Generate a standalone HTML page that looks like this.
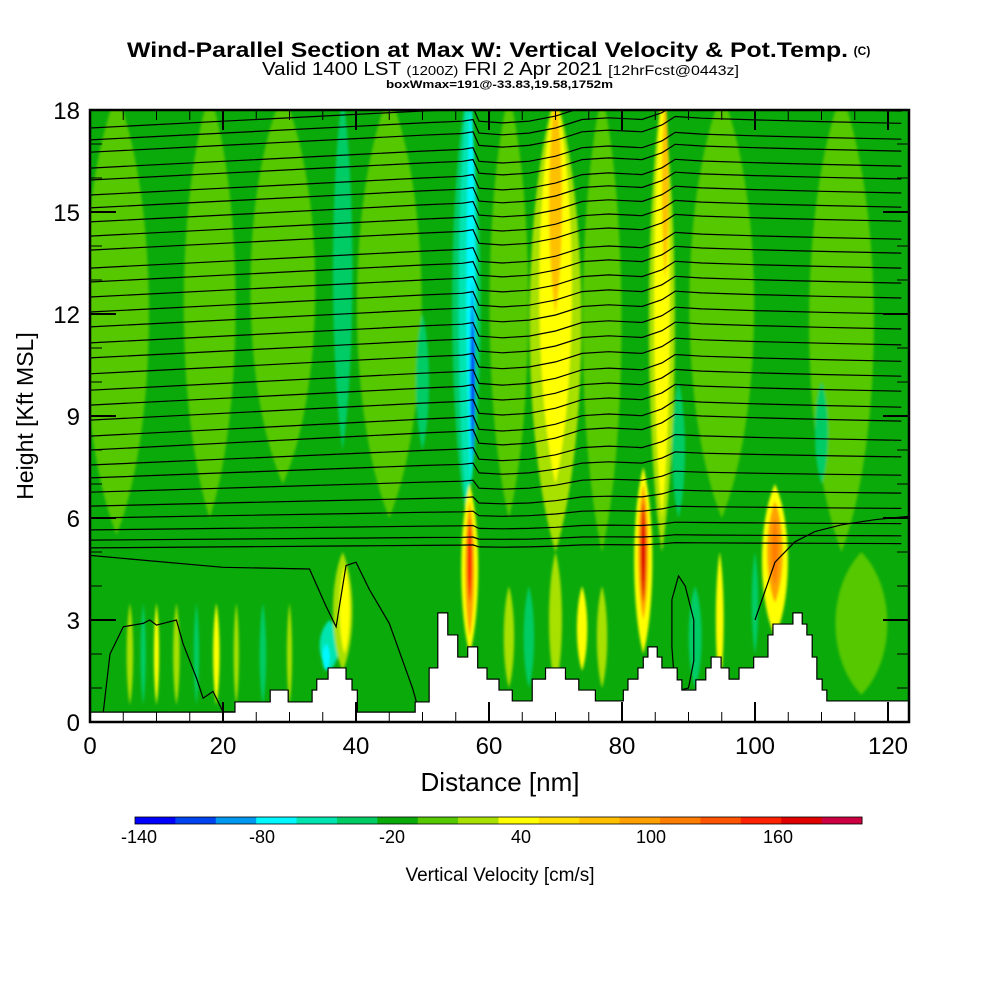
<!DOCTYPE html>
<html><head><meta charset="utf-8"><style>
html,body{margin:0;padding:0;background:#fff;}
svg{display:block;font-family:"Liberation Sans",sans-serif;}
</style></head><body>
<svg id="chart" width="1000" height="1000" viewBox="0 0 1000 1000">
<g>
<text x="127" y="57" font-size="21" font-weight="bold" textLength="721" lengthAdjust="spacingAndGlyphs">Wind-Parallel Section at Max W: Vertical Velocity &amp; Pot.Temp.</text>
<text x="862" y="55" text-anchor="middle" font-size="12" font-weight="bold">(C)</text>
<text x="262" y="75" font-size="18" textLength="477" lengthAdjust="spacingAndGlyphs">Valid 1400 LST <tspan font-size="13">(1200Z)</tspan> FRI 2 Apr 2021 <tspan font-size="14">[12hrFcst@0443z]</tspan></text>
<text x="386" y="88" font-size="11" font-weight="bold" textLength="227" lengthAdjust="spacingAndGlyphs">boxWmax=191@-33.83,19.58,1752m</text>
</g>
<defs><clipPath id="plotclip"><rect x="90" y="110" width="819" height="612"/></clipPath>
<filter id="soft" x="-20%" y="-20%" width="140%" height="140%"><feGaussianBlur stdDeviation="1.2"/></filter></defs>
<g id="field" clip-path="url(#plotclip)"></g>
<g id="contours" clip-path="url(#plotclip)"></g>
<g id="terrain" clip-path="url(#plotclip)"></g>
<g id="axes"></g>
<g id="cbar"></g>
<text x="500" y="791" text-anchor="middle" font-size="26">Distance [nm]</text>
<text transform="translate(33,416) rotate(-90)" text-anchor="middle" font-size="23">Height [Kft MSL]</text>
<text x="500" y="881" text-anchor="middle" font-size="19">Vertical Velocity [cm/s]</text>
</svg>
<script>
// ---- data ----
const binColors = ['#0000ff','#0044f0','#0099f0','#00f8ff','#00e4b0','#00cc66','#0aaa0a','#55c800','#a8e000','#ffff00','#ffe000','#ffc000','#ffa000','#ff7e00','#ff5400','#ff2200','#e00000','#cc0040'];
const binStart = -140, binStep = 20;
const cbarTickValues = [-140,-80,-20,40,100,160];
const cbarTickPos = [139,262,392,521,651,778];
// streaks: center (nm), half width (nm), bottom/top (kft), velocity (cm/s)
const streakX  = [4,18,29,45,63,77,95,113, 70,86, 70,86, 70,86.5, 38,56.6,56.7,57.3,57.5,57.6, 50,88.5,110,36,35.5, 57.1,57.1,57.1, 83.2,83.2,83.2, 103,103,103, 38,38.3, 94.7,100, 6,8,10,13,16,19,22,26,30, 63,66,70,74,77, 116, 91];
const streakW  = [5,4,5,5,3,3,5,5, 4,2, 2.5,1.2, 1,0.5, 1.5,2.2,1.3,0.7,0.4,0.22, 1,1,1,1.5,0.6, 1.3,0.7,0.35, 1.4,0.8,0.4, 2,1.2,0.5, 1.5,0.8, 0.6,0.5, 0.5,0.4,0.4,0.5,0.4,0.5,0.4,0.5,0.4, 0.8,0.8,1,0.8,0.8, 4, 1];
const streakY0 = [5.5,6,7,6,6,5,6,5, 5,5, 7,6, 12,13, 8,6,6,7,7.5,8, 8,6,7,1.5,1.5, 2,2.5,3.5, 2,3,3.5, 2.5,3.5,4, 1.5,2, 1,2, 0.5,0.5,0.5,0.5,0.5,0.5,0.5,0.5,0.5, 1,1,1,1.5,1, 0.8, 1];
const streakY1 = [18.5,18.5,18.5,18.5,18.5,18.5,18.5,18.5, 18.5,18.5, 18.5,18.5, 18.5,18.5, 18.5,18.5,18.5,18.5,13,12, 12,10,10,3,2.3, 7,6.5,6, 7.5,7,6.5, 7,6.5,6, 5,4.6, 5,5, 3.5,3.5,3.5,3.5,3.5,3.5,3.5,3.5,3.5, 4,4,5,4,4, 5, 4];
const streakV  = [10,10,10,10,10,10,10,10, 30,30, 50,50, 90,80, -30,-30,-50,-70,-100,-130, -30,-40,-30,-50,-70, 50,110,170, 50,110,180, 50,100,130, 20,50, 50,-40, 30,-30,50,30,-30,50,30,-30,30, 30,-30,30,50,30, 10, -30];
// terrain step profile (nm, kft)
const terrX = [0,21.8,27.1,29.8,33.4,34.1,35.8,38.5,39.4,40.2,48.9,51.0,52.3,53.8,55.3,56.8,58.3,59.7,61.5,63.5,66.5,68.5,71.5,73.5,76,80.2,80.9,82.4,83.2,83.9,85.3,86.0,88.3,89.0,91.1,92.6,93.4,94.9,96.1,97.6,99.8,101.95,102.7,105.7,107.1,107.8,108.6,109.3,110.1,110.8];
const terrH = [0.29,0.59,0.94,0.59,0.94,1.26,1.59,1.26,0.94,0.29,0.59,1.59,3.21,2.56,1.91,2.21,1.59,1.26,0.94,0.62,1.26,1.59,1.26,0.94,0.62,0.94,1.26,1.59,1.91,2.21,1.91,1.59,1.24,0.94,1.24,1.59,1.91,1.59,1.26,1.59,1.91,2.56,2.88,3.21,2.88,2.56,1.91,1.26,0.94,0.62];
// potential temperature contour base heights at left edge (kft)
const thetaBase = [17.47,17.12,16.76,16.29,15.94,15.5,15.12,14.71,14.29,13.88,13.35,12.94,12.5,12.06,11.62,11.15,10.71,10.24,9.76,9.32,8.88,8.41,8.0,7.56,7.18,6.76,6.35,6.0,5.65,5.35,5.12];
const dispX = [0,20,40,50,56,57.6,58.5,62,66,70,74,78,83,86,88,92,100,110,122];
const dispZ = [0,0.2,0.4,0.5,0.55,0.6,0.2,0.15,0.2,0.35,0.6,0.65,0.6,0.8,1.05,1.0,0.95,0.9,0.85];
// low contours (nm, kft)
const lowAX = [0,20,33,35.5,37,38.5,40,42,45,48.5,49.5];
const lowAZ = [4.9,4.55,4.5,3.4,2.8,4.6,4.7,3.9,2.9,1.0,0.3];
const lowBX = [2,3,5,8,9,10,13,14,16,17,18.5,20,24,27,30,30.5];
const lowBZ = [0.3,2.0,2.8,2.9,3.0,2.85,3.0,2.3,1.3,0.7,0.9,0.3,0.3,0.3,0.3,0.3];
const lowCX = [88,87.5,87.5,88.5,89.5,90.8,90.8,90,88];
const lowCZ = [0.9,2.2,3.6,4.3,4.0,3.0,1.8,1.0,0.9];
const lowDX = [100,103,106,109,113,118,123];
const lowDZ = [3.0,4.7,5.3,5.6,5.8,5.95,6.05];
// ---- axes ----
const X = nm => 90 + nm*6.65;
const Y = k => 722 - k*34;
const NS='http://www.w3.org/2000/svg';
function mk(tag, attrs, parent){const e=document.createElementNS(NS,tag);for(const k in attrs)e.setAttribute(k,attrs[k]);parent.appendChild(e);return e;}
function colorOf(v){let i=Math.floor((v-binStart)/binStep);i=Math.max(0,Math.min(binColors.length-1,i));return binColors[i];}
const field=document.getElementById('field');
mk('rect',{x:90,y:110,width:819,height:612,fill:'#0aaa0a'},field);
const fg=mk('g',{filter:'url(#soft)'},field);
for(let i=0;i<streakX.length;i++){
  const cx=X(streakX[i]), rx=streakW[i]*6.65, yt=Y(streakY1[i]), yb=Y(streakY0[i]);
  const d=`M${cx},${yt} C${cx+rx*1.3},${yt+(yb-yt)*0.25} ${cx+rx*1.3},${yb-(yb-yt)*0.25} ${cx},${yb} C${cx-rx*1.3},${yb-(yb-yt)*0.25} ${cx-rx*1.3},${yt+(yb-yt)*0.25} ${cx},${yt}Z`;
  const p=mk('path',{d:d,fill:colorOf(streakV[i])},fg);
  
  
}
function interp(xs,zs,x){if(x<=xs[0])return zs[0];for(let i=1;i<xs.length;i++){if(x<=xs[i]){const t=(x-xs[i-1])/(xs[i]-xs[i-1]);return zs[i-1]+t*(zs[i]-zs[i-1]);}}return zs[zs.length-1];}
const cont=document.getElementById('contours');
thetaBase.forEach(b=>{
  const f=Math.max(0.15,Math.min(1,(b-5)/3));
  let pts=[];
  dispX.forEach(x=>{pts.push(X(x).toFixed(1)+','+Y(b+interp(dispX,dispZ,x)*f).toFixed(1));});
  const p=mk('polyline',{points:pts.join(' '),fill:'none',stroke:'#000','stroke-width':1.2},cont);
  
  
});
[[lowAX,lowAZ],[lowBX,lowBZ],[lowCX,lowCZ],[lowDX,lowDZ]].forEach(([xs,zs])=>{
  const p=mk('polyline',{points:xs.map((x,i)=>X(x).toFixed(1)+','+Y(zs[i]).toFixed(1)).join(' '),fill:'none',stroke:'#000','stroke-width':1.2},cont);
  
  
});
// terrain
const ter=document.getElementById('terrain');
let d=`M${X(0)},730 L${X(0)},${Y(terrH[0])}`;
for(let i=1;i<terrX.length;i++){d+=` L${X(terrX[i])},${Y(terrH[i-1])} L${X(terrX[i])},${Y(terrH[i])}`;}
d+=` L${X(124)},${Y(terrH[terrH.length-1])} L${X(124)},730 Z`;
const tp=mk('path',{d:d,fill:'#fff',stroke:'#000','stroke-width':1.2},ter);


// axes
const ax=document.getElementById('axes');
mk('rect',{x:90,y:110,width:819,height:612,fill:'none',stroke:'#000','stroke-width':2.5},ax);
for(let k=0;k<=18;k++){
  const y=Y(k), len=k%3===0?26:12;
  mk('line',{x1:90,y1:y,x2:90+len,y2:y,stroke:'#000','stroke-width':k%3===0?2:1},ax);
  mk('line',{x1:909,y1:y,x2:909-len,y2:y,stroke:'#000','stroke-width':k%3===0?2:1},ax);
  if(k%3===0){const t=mk('text',{x:80,y:y+9,'text-anchor':'end','font-size':24},ax);t.textContent=k;
    
    }
}
for(let n=0;n<=120;n+=5){
  const x=X(n), len=n%20===0?20:10;
  mk('line',{x1:x,y1:722,x2:x,y2:722-len,stroke:'#000','stroke-width':n%20===0?2:1},ax);
  mk('line',{x1:x,y1:110,x2:x,y2:110+len,stroke:'#000','stroke-width':n%20===0?2:1},ax);
  if(n%20===0){const t=mk('text',{x:x,y:754,'text-anchor':'middle','font-size':24},ax);t.textContent=n;
    
    }
}
// colorbar
const cb=document.getElementById('cbar');
const w=(862-135)/binColors.length;
binColors.forEach((c,i)=>{const r=mk('rect',{x:135+i*w,y:817,width:w+0.5,height:7,fill:c},cb);
  
  });
mk('rect',{x:135,y:817,width:727,height:7,fill:'none',stroke:'#000','stroke-width':0.8},cb);
cbarTickValues.forEach((v,i)=>{const t=mk('text',{x:cbarTickPos[i],y:843,'text-anchor':'middle','font-size':18},cb);t.textContent=v;
  
  });
</script>
</body></html>
